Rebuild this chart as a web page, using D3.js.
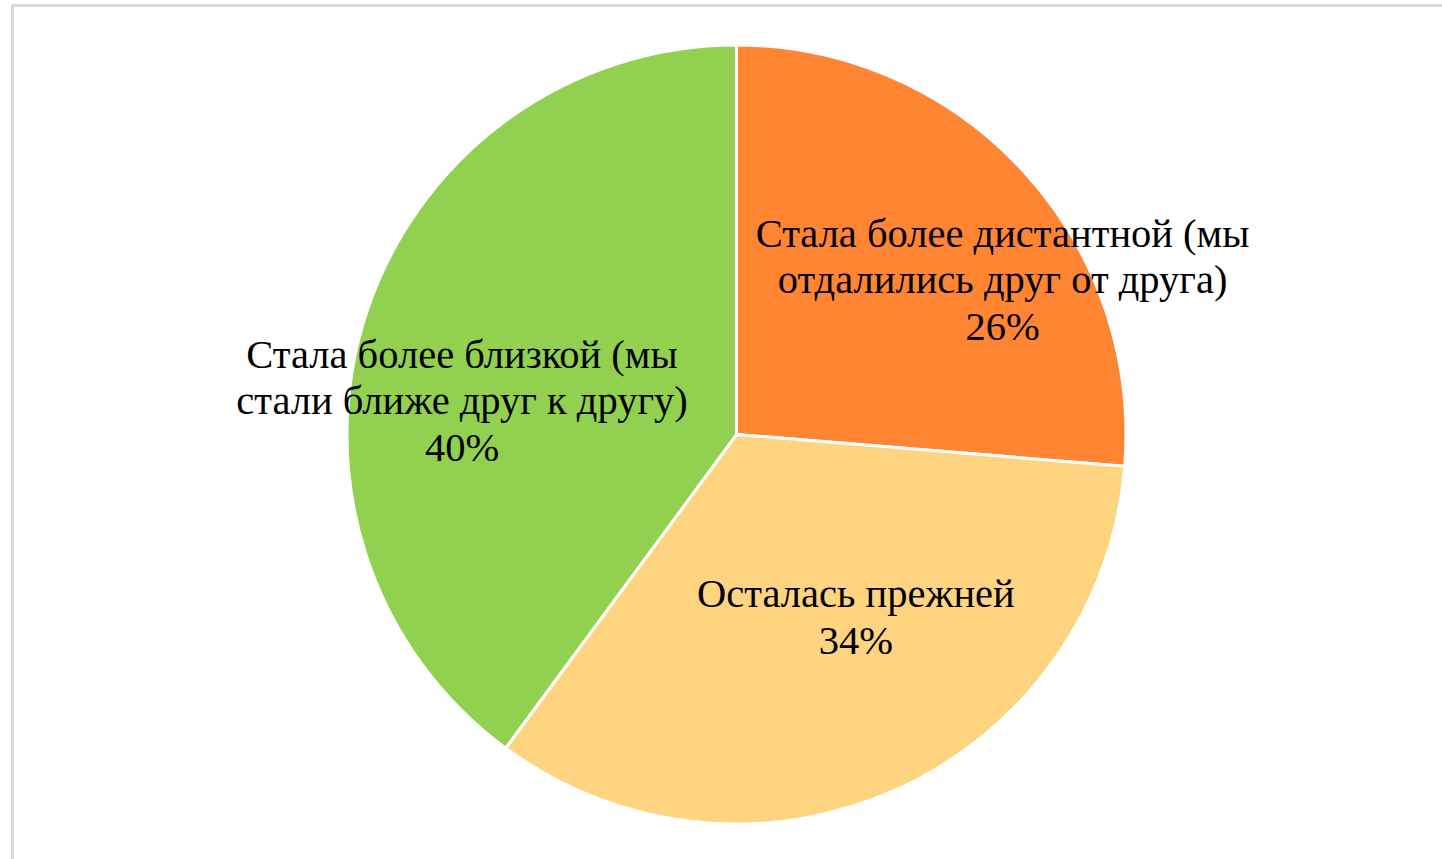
<!DOCTYPE html>
<html>
<head>
<meta charset="utf-8">
<script src="https://cdn.jsdelivr.net/npm/d3@7"></script>
<style>
    body { margin: 0; background: #fff; }
    svg { display: block; }
    text { font-family: "Liberation Serif", "Times New Roman", Times, serif; }
</style>
</head>
<body>
<div id="canvas"></div>
<script>
// chart data (shares)
const categories = [
    ["Стала более дистантной (мы", "отдалились друг от друга)"],
    ["Осталась прежней"],
    ["Стала более близкой (мы", "стали ближе друг к другу)"]
]
const values = [26.3, 33.8, 39.9]
const colorList = ["#FF8533", "#FFD480", "#92D050"]

// where each label sits: shift from slice mid angle (deg), distance as share of radius
const labelPlace = [
    { shift: 12.5, dist: 0.79 },
    { shift: -8.7, dist: 0.56 },
    { shift: -11.2, dist: 0.71 }
]

const width = 1442
const height = 859
const cx = 736.5
const cy = 434.5
const radius = 389.5
const fontSize = 40.5
const lineHeight = 46.5

const total = d3.sum(values)

const wrapper = d3.select("#canvas")
    .append("svg")
    .attr("width", width)
    .attr("height", height)

// frame of the chart area
wrapper.append("rect")
    .attr("x", 12.5)
    .attr("y", 5.5)
    .attr("width", width + 100)
    .attr("height", height + 100)
    .attr("fill", "#fff")
    .attr("stroke", "#d9d9d9")
    .attr("stroke-width", 3)

const bounds = wrapper.append("g")
    .attr("transform", `translate(${cx},${cy})`)

const pie = d3.pie()
    .sort(null)
    .value(d => d)

const arcs = pie(values)

const arcGenerator = d3.arc()
    .innerRadius(0)
    .outerRadius(radius)

bounds.selectAll("path")
    .data(arcs)
    .enter().append("path")
    .attr("d", arcGenerator)
    .attr("fill", (d, i) => colorList[i])
    .attr("stroke", "#fff")
    .attr("stroke-width", 3)
    .attr("stroke-linejoin", "miter")

const label = bounds.selectAll("text")
    .data(arcs)
    .enter().append("text")
    .attr("font-size", fontSize)
    .attr("fill", "#000")
    .attr("text-anchor", "middle")
    .attr("transform", (d, i) => {
        const a = (d.startAngle + d.endAngle) / 2 + labelPlace[i].shift * Math.PI / 180
        const r = radius * labelPlace[i].dist
        return `translate(${Math.sin(a) * r},${-Math.cos(a) * r})`
    })

label.each(function (d, i) {
    const lines = categories[i].concat([Math.round(values[i] / total * 100) + "%"])
    const top = -(lines.length - 1) / 2 * lineHeight
    d3.select(this).selectAll("tspan")
        .data(lines)
        .enter().append("tspan")
        .attr("x", 0)
        .attr("y", (t, j) => top + j * lineHeight)
        .attr("dy", "0.33em")
        .text(t => t)
})
</script>
</body>
</html>
